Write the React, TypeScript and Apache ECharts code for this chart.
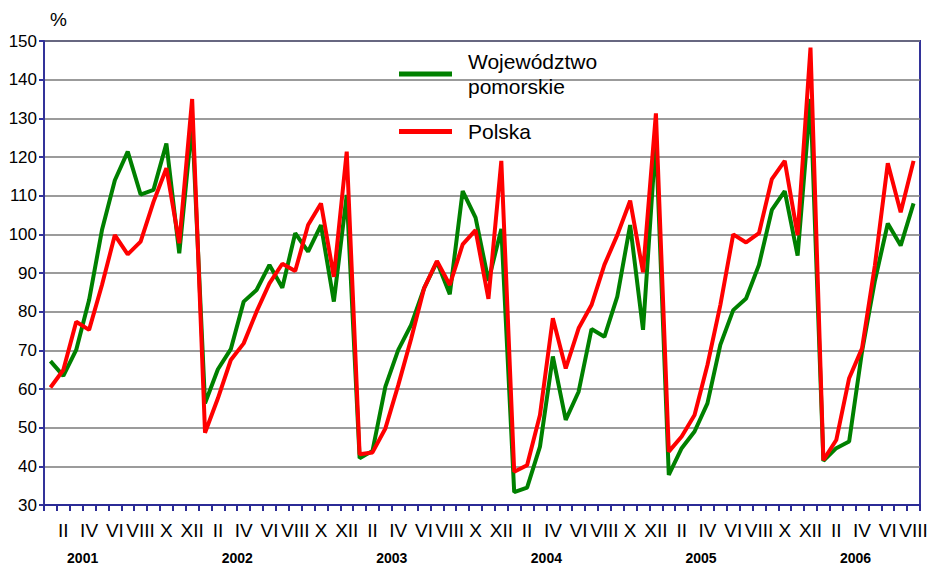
import React, { useEffect, useRef } from "react";
import * as echarts from "echarts";

const romanMonths = ["I", "II", "III", "IV", "V", "VI", "VII", "VIII", "IX", "X", "XI", "XII"];
const yearLabels = ["2001", "2002", "2003", "2004", "2005", "2006"];
const monthsPerYear = [12, 12, 12, 12, 12, 8];

const pomorskie = [
  67.2, 63.4, 70.1, 83.0, 101.1, 114.0, 121.4, 110.3, 111.5, 123.5, 95.1, 129.0,
  56.3, 65.1, 70.3, 82.6, 85.6, 92.1, 86.2, 100.3, 95.5, 102.4, 82.6, 110.2,
  42.1, 44.0, 60.6, 70.1, 76.6, 86.0, 92.9, 84.5, 111.2, 104.3, 88.0, 101.4,
  33.3, 34.5, 45.1, 68.4, 52.0, 59.3, 75.5, 73.5, 83.9, 102.4, 75.3, 125.0,
  37.8, 44.7, 49.0, 56.3, 71.4, 80.4, 83.4, 92.1, 106.3, 111.2, 94.5, 135.0,
  41.4, 44.7, 46.4, 69.7, 88.0, 102.8, 97.1, 108.0,
];

const polska = [
  60.4, 64.9, 77.4, 75.3, 86.9, 99.8, 94.8, 98.1, 108.4, 117.1, 97.7, 135.0,
  48.7, 57.6, 67.5, 71.8, 80.0, 87.3, 92.4, 90.5, 102.4, 108.0, 89.0, 121.4,
  43.1, 43.6, 49.8, 61.0, 73.0, 86.0, 93.1, 86.9, 97.4, 101.1, 83.3, 119.0,
  38.6, 40.3, 53.3, 78.3, 65.3, 75.7, 81.7, 92.1, 99.8, 108.7, 90.2, 131.3,
  43.8, 47.7, 53.3, 66.2, 81.7, 100.0, 97.9, 100.3, 114.3, 119.0, 99.8, 148.3,
  41.6, 46.8, 62.8, 70.5, 92.0, 118.4, 105.7, 119.0,
];

const seriesNames = ["Województwo pomorskie", "Polska"];

const categories: string[] = [];
yearLabels.forEach((y, yi) => {
  for (let m = 0; m < monthsPerYear[yi]; m++) categories.push(romanMonths[m] + " " + y);
});

// boundaries between months (one more than months); year label sits at boundary 3 of each year
const yearBoundaries: string[] = [];
for (let k = 0; k <= categories.length; k++) {
  const r = k - 3;
  yearBoundaries.push(r >= 0 && r % 12 === 0 && r / 12 < yearLabels.length ? yearLabels[r / 12] : "");
}

const SANS = "'Liberation Sans', Arial, sans-serif";
const AXIS_BLUE = "#2b2b96";

export default function App() {
  const ref = useRef<HTMLDivElement>(null);
  useEffect(() => {
    if (!ref.current) return;
    const chart = echarts.init(ref.current, undefined, { renderer: "svg" });
    chart.setOption({
      animation: false,
      backgroundColor: "#ffffff",
      grid: {
        left: 44,
        top: 41,
        width: 876,
        height: 464,
        show: true,
        borderColor: "#333399",
        borderWidth: 2,
        backgroundColor: "transparent",
      },
      legend: {
        orient: "vertical",
        left: 399,
        top: 49,
        padding: 0,
        itemWidth: 53,
        itemHeight: 5,
        itemGap: 20,
        icon: "rect",
        data: seriesNames,
        formatter: (n: string) => n.replace(" pomorskie", "\npomorskie"),
        textStyle: {
          fontSize: 21,
          lineHeight: 25,
          fontFamily: SANS,
          color: "#000",
          padding: [0, 0, 0, 11],
        },
      },
      xAxis: [
        {
          type: "category",
          data: categories,
          boundaryGap: true,
          position: "bottom",
          axisLine: { show: true, lineStyle: { color: AXIS_BLUE, width: 2 } },
          axisTick: { show: true, interval: 0, length: 6, lineStyle: { color: AXIS_BLUE, width: 2 } },
          axisLabel: {
            interval: 0,
            margin: 16,
            fontSize: 19,
            fontFamily: SANS,
            color: "#000",
            formatter: (v: string, i: number) => (i % 2 === 1 ? v.split(" ")[0] : ""),
          },
          splitLine: { show: false },
        },
        {
          type: "category",
          data: yearBoundaries,
          boundaryGap: false,
          position: "bottom",
          offset: 0,
          axisLine: { show: false },
          axisTick: { show: false },
          axisLabel: {
            interval: 0,
            margin: 46,
            fontSize: 14,
            fontWeight: "bold",
            fontFamily: SANS,
            color: "#000",
          },
          splitLine: { show: false },
        },
      ],
      yAxis: {
        type: "value",
        min: 30,
        max: 150,
        interval: 10,
        name: "%",
        nameLocation: "end",
        nameGap: 12,
        nameTextStyle: { fontSize: 19, fontFamily: SANS, color: "#000", align: "left", padding: [0, 0, 0, 6] },
        axisLine: { show: true, lineStyle: { color: "#333399", width: 2 } },
        axisTick: { show: true, length: 5, lineStyle: { color: "#333399", width: 2 } },
        axisLabel: { fontSize: 17, fontFamily: SANS, color: "#000", margin: 7 },
        splitLine: { show: true, lineStyle: { color: "#7a7a7a", width: 1.5 } },
      },
      series: [
        {
          name: seriesNames[0],
          type: "line",
          data: pomorskie,
          symbol: "none",
          color: "#008000",
          lineStyle: { width: 4, color: "#008000" },
          z: 2,
        },
        {
          name: seriesNames[1],
          type: "line",
          data: polska,
          symbol: "none",
          color: "#ff0000",
          lineStyle: { width: 4, color: "#ff0000" },
          z: 3,
        },
      ],
    });
    return () => chart.dispose();
  }, []);
  return (
    <div
      ref={ref}
      style={{ position: "absolute", left: 0, top: 0, width: 933, height: 567 }}
    />
  );
}
